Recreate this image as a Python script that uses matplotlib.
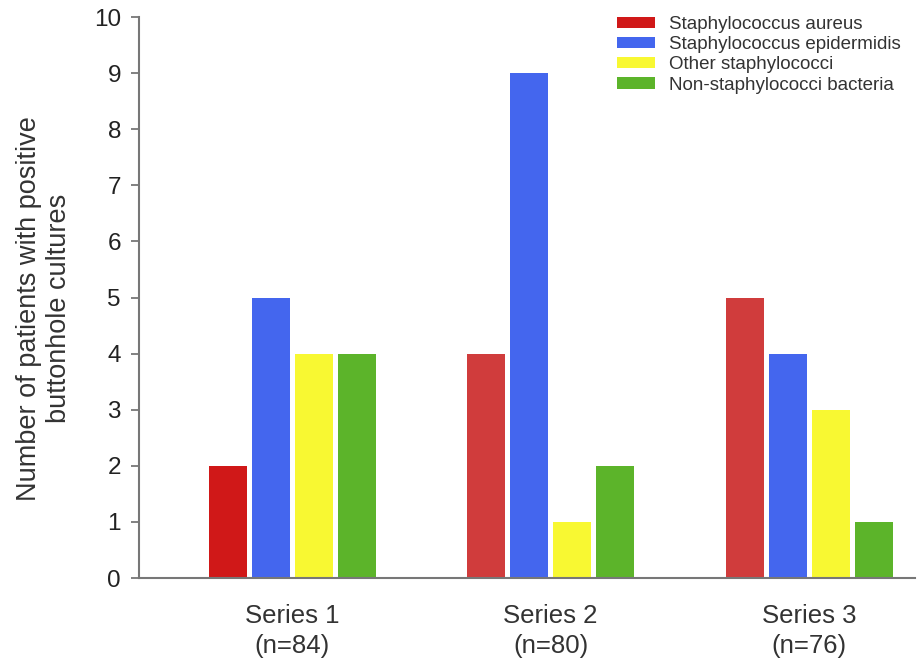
import matplotlib
matplotlib.use("Agg")
import matplotlib.pyplot as plt
import numpy as np

plt.rcParams['font.family'] = ['Liberation Sans', 'DejaVu Sans']

groups = ["Series 1\n(n=84)", "Series 2\n(n=80)", "Series 3\n(n=76)"]
organisms = ["Staphylococcus aureus", "Staphylococcus epidermidis",
             "Other staphylococci", "Non-staphylococci bacteria"]
aureus = [2, 4, 5]
epidermidis = [5, 9, 4]
other_staph = [4, 1, 3]
non_staph = [4, 2, 1]
# the first red bar is a bit darker in the original
colors = [["#d01818", "#d03c3c", "#d03c3c"], "#4466ee", "#f8f832", "#5cb42a"]

fig = plt.figure(figsize=(9.19, 6.6), dpi=100)
ax = fig.add_axes([0.1513, 0.1242, 0.8444, 0.85])

x = np.arange(len(groups))
step = 0.1663
width = 0.147
for i, (vals, name) in enumerate(zip([aureus, epidermidis, other_staph, non_staph], organisms)):
    ax.bar(x + (i - 1.5) * step, vals, width, color=colors[i], label=name)

ax.set_xlim(-0.592, 2.41)
ax.set_ylim(0, 10)
ax.set_yticks(range(0, 11))
ax.set_xticks(x)
ax.set_xticklabels(groups, fontsize=18.5, color='#333333', linespacing=1.3)
ax.tick_params(axis='x', length=0, pad=19)
ax.tick_params(axis='y', length=6, width=1.3, color='#777777', labelsize=17.5,
               labelcolor='#222222', pad=7)

for s in ['top', 'right']:
    ax.spines[s].set_visible(False)
for s in ['left', 'bottom']:
    ax.spines[s].set_color('#777777')
    ax.spines[s].set_linewidth(1.5)

ax.set_ylabel("Number of patients with positive\nbuttonhole cultures",
              fontsize=19.5, color='#333333', linespacing=1.2)
ax.yaxis.set_label_coords(-0.087, 0.48)

# legend sits in figure coords, top right
handles, labels = ax.get_legend_handles_labels()
leg = fig.legend(handles, labels, loc='upper left',
                 bbox_to_anchor=(617 / 919, 1 - 16 / 660), frameon=False,
                 fontsize=13.5, handlelength=2.0, handleheight=0.55,
                 handletextpad=0.75, labelspacing=0.17, borderpad=0,
                 borderaxespad=0)
for t in leg.get_texts():
    t.set_color('#333333')

fig.savefig("out.png", dpi=100)
